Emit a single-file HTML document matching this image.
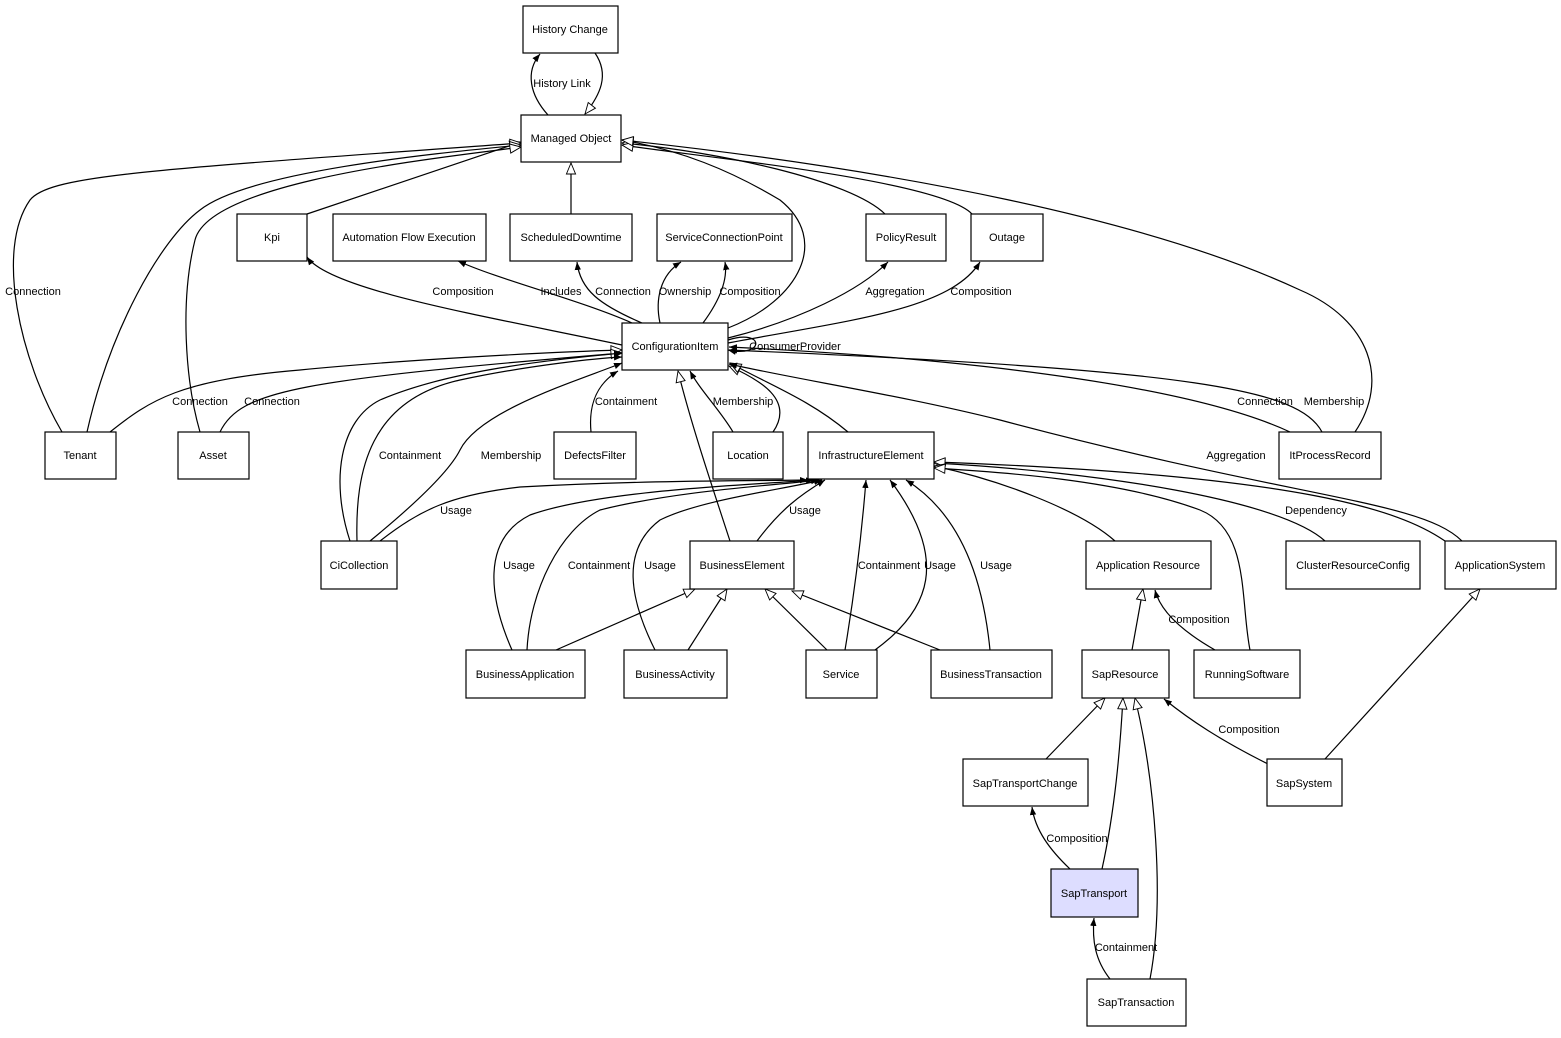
<!DOCTYPE html>
<html><head><meta charset="utf-8"><style>
html,body{margin:0;padding:0;background:#fff;}
svg text{font-family:"Liberation Sans",Arial,sans-serif;font-size:11px;fill:#000;}
</style></head><body>
<svg width="1561" height="1033" viewBox="0 0 1561 1033" xmlns="http://www.w3.org/2000/svg">
<defs>
<marker id="f" viewBox="0 0 10 10" refX="10" refY="5" markerWidth="8" markerHeight="8" markerUnits="userSpaceOnUse" orient="auto"><path d="M0,1 L10,5 L0,9 Z" fill="#000"/></marker>
<marker id="h" viewBox="0 0 14 12" refX="13" refY="6" markerWidth="13" markerHeight="11" markerUnits="userSpaceOnUse" orient="auto"><path d="M1,1 L13,6 L1,11 Z" fill="#fff" stroke="#000" stroke-width="1"/></marker>
</defs>
<g fill="none" stroke="#000" stroke-width="1.2">
<path d="M548,115 C530,95 525,72 540,54" marker-end="url(#f)"/>
<path d="M595,53 C610,75 600,95 585,114" marker-end="url(#h)"/>
<path d="M571,214 L571,163" marker-end="url(#h)"/>
<path d="M307,214 L521,142" marker-end="url(#h)"/>
<path d="M62,432 C20,360 -5,250 30,200 C50,175 150,170 521,143" marker-end="url(#h)"/>
<path d="M87,432 C110,330 160,240 200,210 C250,170 450,152 521,145" marker-end="url(#h)"/>
<path d="M200,432 C185,380 180,300 195,240 C210,180 450,157 521,147" marker-end="url(#h)"/>
<path d="M728,328 C800,300 830,240 780,200 C730,170 680,150 622,140" marker-end="url(#h)"/>
<path d="M885,214 C850,180 720,152 622,143" marker-end="url(#h)"/>
<path d="M972,214 C940,180 700,157 622,145" marker-end="url(#h)"/>
<path d="M1355,432 C1390,380 1370,320 1300,290 C1150,220 900,170 622,140" marker-end="url(#h)"/>
<path d="M622,345 C480,315 330,290 307,257" marker-end="url(#f)"/>
<path d="M632,323 C580,300 500,280 458,261" marker-end="url(#f)"/>
<path d="M642,323 C600,305 580,290 577,262" marker-end="url(#f)"/>
<path d="M660,323 C655,300 660,275 681,262" marker-end="url(#f)"/>
<path d="M703,323 C720,300 728,280 725,262" marker-end="url(#f)"/>
<path d="M728,338 C800,320 860,290 888,262" marker-end="url(#f)"/>
<path d="M728,343 C850,320 950,310 980,262" marker-end="url(#f)"/>
<path d="M728,340 C765,328 765,358 728,350" marker-end="url(#f)"/>
<path d="M110,432 C150,400 180,380 300,370 C400,360 550,352 622,350" marker-end="url(#h)"/>
<path d="M220,432 C240,390 300,380 622,353" marker-end="url(#h)"/>
<path d="M350,541 C330,480 340,420 380,400 C450,370 550,360 622,353" marker-end="url(#f)"/>
<path d="M357,541 C355,470 370,400 460,380 C530,365 600,358 622,357" marker-end="url(#f)"/>
<path d="M370,541 C420,500 450,470 460,450 C480,410 580,380 622,363" marker-end="url(#f)"/>
<path d="M591,432 C588,400 600,382 618,371" marker-end="url(#f)"/>
<path d="M733,432 C720,410 700,390 690,371" marker-end="url(#f)"/>
<path d="M773,432 C795,400 760,380 729,366" marker-end="url(#h)"/>
<path d="M848,432 C810,400 770,385 730,363" marker-end="url(#h)"/>
<path d="M730,541 C710,480 690,420 678,371" marker-end="url(#h)"/>
<path d="M1290,432 C1200,390 1000,360 729,347" marker-end="url(#f)"/>
<path d="M1322,432 C1300,390 1200,370 729,350" marker-end="url(#f)"/>
<path d="M1462,541 C1420,500 1300,500 1000,420 C900,395 800,380 729,364" marker-end="url(#f)"/>
<path d="M1325,541 C1280,500 1100,472 934,463" marker-end="url(#h)"/>
<path d="M1445,541 C1400,510 1300,475 934,462" marker-end="url(#h)"/>
<path d="M1115,541 C1080,510 1000,480 934,466" marker-end="url(#h)"/>
<path d="M1250,650 C1240,600 1250,530 1200,510 C1120,480 1000,472 934,468" marker-end="url(#h)"/>
<path d="M380,541 C420,510 450,495 520,487 C650,480 750,481 808,480" marker-end="url(#f)"/>
<path d="M512,650 C490,600 480,540 530,515 C600,490 750,485 814,480" marker-end="url(#f)"/>
<path d="M527,650 C530,590 560,530 600,510 C680,490 780,485 819,480" marker-end="url(#f)"/>
<path d="M655,650 C630,600 620,550 660,520 C700,500 780,490 822,480" marker-end="url(#f)"/>
<path d="M757,541 C780,510 800,495 825,480" marker-end="url(#f)"/>
<path d="M845,650 C855,590 862,530 866,480" marker-end="url(#f)"/>
<path d="M875,650 C930,610 950,560 890,480" marker-end="url(#f)"/>
<path d="M990,650 C985,600 970,520 906,480" marker-end="url(#f)"/>
<path d="M556,650 L695,589" marker-end="url(#h)"/>
<path d="M688,650 L727,589" marker-end="url(#h)"/>
<path d="M827,650 L765,589" marker-end="url(#h)"/>
<path d="M940,650 L792,591" marker-end="url(#h)"/>
<path d="M1132,650 L1143,589" marker-end="url(#h)"/>
<path d="M1215,650 C1180,630 1160,610 1155,590" marker-end="url(#f)"/>
<path d="M1325,759 L1480,589" marker-end="url(#h)"/>
<path d="M1268,764 C1220,740 1190,720 1164,699" marker-end="url(#f)"/>
<path d="M1046,759 L1105,698" marker-end="url(#h)"/>
<path d="M1102,869 C1115,810 1120,750 1123,698" marker-end="url(#h)"/>
<path d="M1150,979 C1165,900 1155,780 1135,698" marker-end="url(#h)"/>
<path d="M1070,869 C1050,850 1035,830 1032,807" marker-end="url(#f)"/>
<path d="M1110,979 C1095,960 1092,940 1094,918" marker-end="url(#f)"/>
</g>
<g fill="#fff" stroke="#000" stroke-width="1.2">
<rect x="523" y="6" width="95" height="47"/>
<rect x="521" y="115" width="100" height="47"/>
<rect x="237" y="214" width="70" height="47"/>
<rect x="333" y="214" width="153" height="47"/>
<rect x="510" y="214" width="122" height="47"/>
<rect x="657" y="214" width="135" height="47"/>
<rect x="866" y="214" width="80" height="47"/>
<rect x="971" y="214" width="72" height="47"/>
<rect x="622" y="323" width="106" height="47"/>
<rect x="45" y="432" width="71" height="47"/>
<rect x="178" y="432" width="71" height="47"/>
<rect x="554" y="432" width="82" height="47"/>
<rect x="713" y="432" width="70" height="47"/>
<rect x="808" y="432" width="126" height="47"/>
<rect x="1279" y="432" width="102" height="47"/>
<rect x="321" y="541" width="76" height="48"/>
<rect x="690" y="541" width="104" height="48"/>
<rect x="1086" y="541" width="125" height="48"/>
<rect x="1286" y="541" width="134" height="48"/>
<rect x="1445" y="541" width="111" height="48"/>
<rect x="466" y="650" width="119" height="48"/>
<rect x="624" y="650" width="103" height="48"/>
<rect x="806" y="650" width="71" height="48"/>
<rect x="931" y="650" width="121" height="48"/>
<rect x="1082" y="650" width="87" height="48"/>
<rect x="1194" y="650" width="106" height="48"/>
<rect x="963" y="759" width="125" height="47"/>
<rect x="1267" y="759" width="75" height="47"/>
<rect x="1051" y="869" width="87" height="48" fill="#ddddff"/>
<rect x="1087" y="979" width="99" height="47"/>
</g>
<g text-anchor="middle">
<text x="570" y="33">History Change</text>
<text x="571" y="142">Managed Object</text>
<text x="272" y="241">Kpi</text>
<text x="409" y="241">Automation Flow Execution</text>
<text x="571" y="241">ScheduledDowntime</text>
<text x="724" y="241">ServiceConnectionPoint</text>
<text x="906" y="241">PolicyResult</text>
<text x="1007" y="241">Outage</text>
<text x="675" y="350">ConfigurationItem</text>
<text x="80" y="459">Tenant</text>
<text x="213" y="459">Asset</text>
<text x="595" y="459">DefectsFilter</text>
<text x="748" y="459">Location</text>
<text x="871" y="459">InfrastructureElement</text>
<text x="1330" y="459">ItProcessRecord</text>
<text x="359" y="569">CiCollection</text>
<text x="742" y="569">BusinessElement</text>
<text x="1148" y="569">Application Resource</text>
<text x="1353" y="569">ClusterResourceConfig</text>
<text x="1500" y="569">ApplicationSystem</text>
<text x="525" y="678">BusinessApplication</text>
<text x="675" y="678">BusinessActivity</text>
<text x="841" y="678">Service</text>
<text x="991" y="678">BusinessTransaction</text>
<text x="1125" y="678">SapResource</text>
<text x="1247" y="678">RunningSoftware</text>
<text x="1025" y="787">SapTransportChange</text>
<text x="1304" y="787">SapSystem</text>
<text x="1094" y="897">SapTransport</text>
<text x="1136" y="1006">SapTransaction</text>
</g>
<g text-anchor="middle">
<text x="562" y="87">History Link</text>
<text x="33" y="295">Connection</text>
<text x="463" y="295">Composition</text>
<text x="561" y="295">Includes</text>
<text x="623" y="295">Connection</text>
<text x="685" y="295">Ownership</text>
<text x="750" y="295">Composition</text>
<text x="895" y="295">Aggregation</text>
<text x="981" y="295">Composition</text>
<text x="795" y="350">ConsumerProvider</text>
<text x="200" y="405">Connection</text>
<text x="272" y="405">Connection</text>
<text x="626" y="405">Containment</text>
<text x="743" y="405">Membership</text>
<text x="1265" y="405">Connection</text>
<text x="1334" y="405">Membership</text>
<text x="410" y="459">Containment</text>
<text x="511" y="459">Membership</text>
<text x="1236" y="459">Aggregation</text>
<text x="456" y="514">Usage</text>
<text x="805" y="514">Usage</text>
<text x="1316" y="514">Dependency</text>
<text x="519" y="569">Usage</text>
<text x="599" y="569">Containment</text>
<text x="660" y="569">Usage</text>
<text x="889" y="569">Containment</text>
<text x="940" y="569">Usage</text>
<text x="996" y="569">Usage</text>
<text x="1199" y="623">Composition</text>
<text x="1249" y="733">Composition</text>
<text x="1077" y="842">Composition</text>
<text x="1126" y="951">Containment</text>
</g>
</svg>
</body></html>
